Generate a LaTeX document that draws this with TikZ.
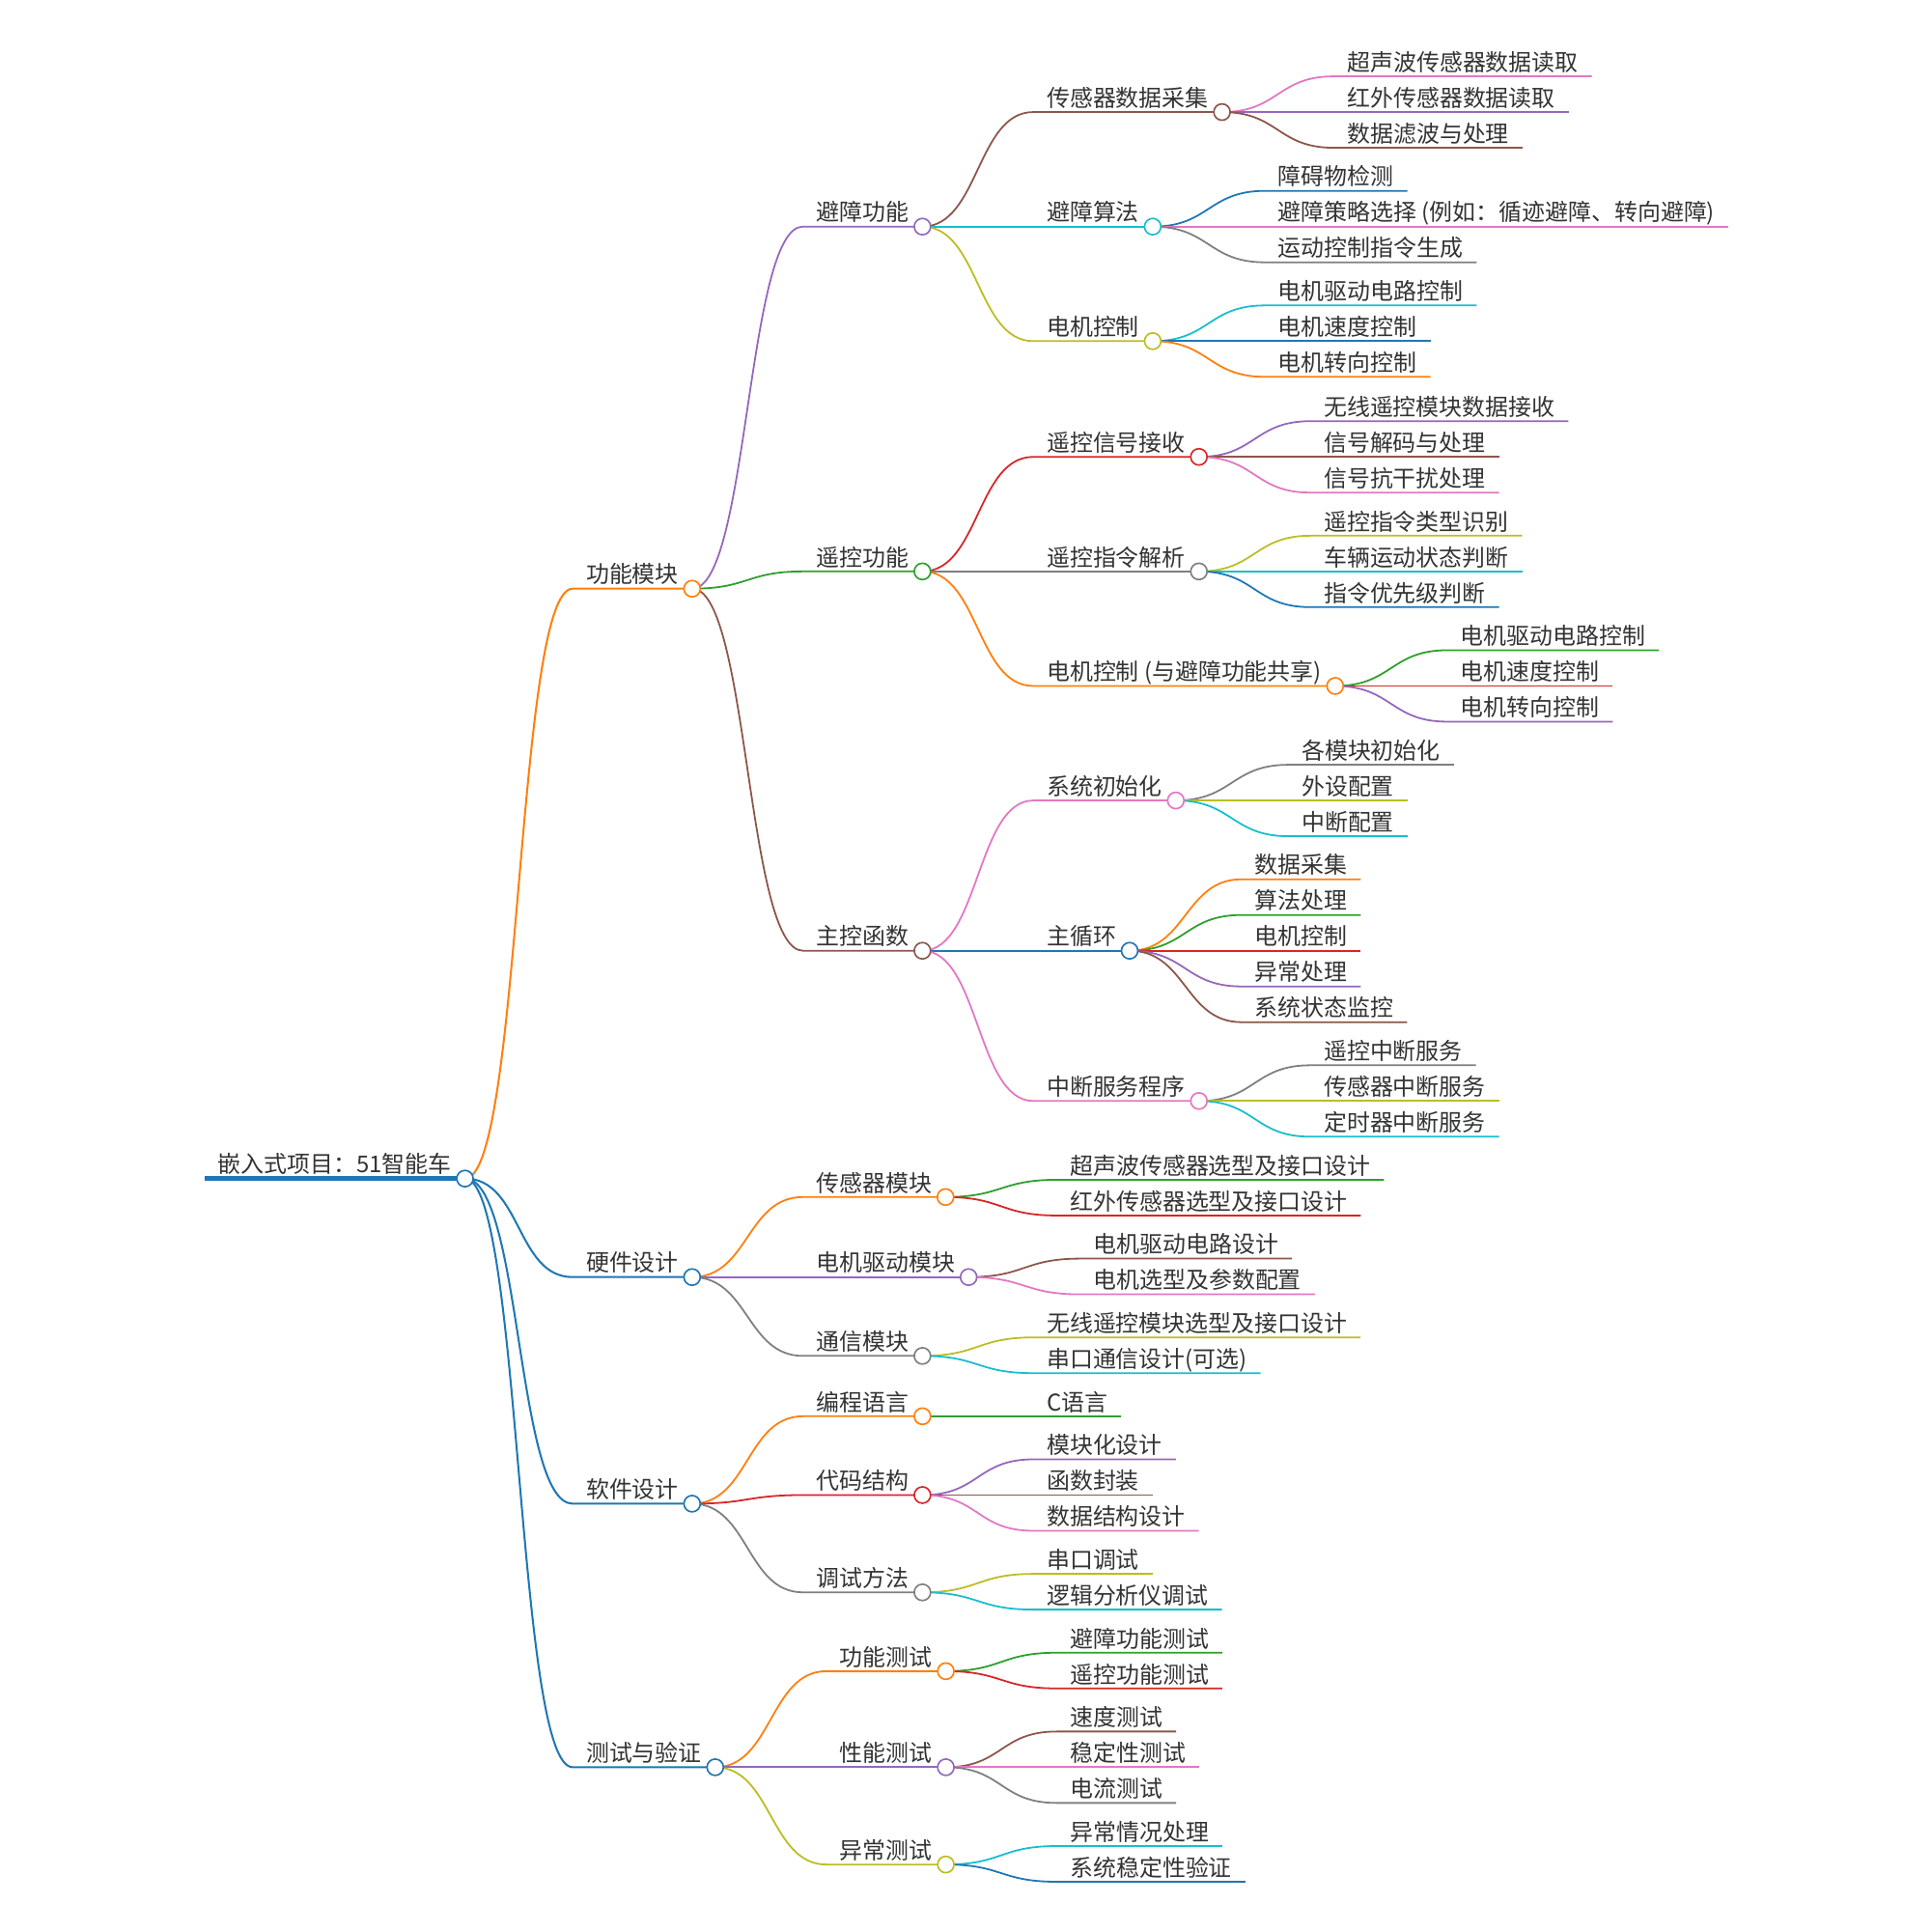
\documentclass[tikz,border=0pt]{standalone}
\usepackage{fontspec}
\setmainfont{Noto Sans CJK SC}
\usetikzlibrary{backgrounds}
\definecolor{blu}{HTML}{1F77B4}
\definecolor{ora}{HTML}{FF7F0E}
\definecolor{grn}{HTML}{2CA02C}
\definecolor{rd}{HTML}{D62728}
\definecolor{pur}{HTML}{9467BD}
\definecolor{brn}{HTML}{8C564B}
\definecolor{pnk}{HTML}{E377C2}
\definecolor{gry}{HTML}{7F7F7F}
\definecolor{olv}{HTML}{BCBD22}
\definecolor{cyn}{HTML}{17BECF}
\definecolor{ink}{HTML}{333333}
\tikzset{font=\fontsize{18.75}{22}\selectfont}
\tikzstyle{txt}=[anchor=base west,inner xsep=11pt,inner ysep=4.5pt,outer sep=0pt,text depth=0pt,yshift=4.5pt,text=ink]
\tikzstyle{dot}=[circle,fill=white,draw,inner sep=0pt,outer sep=0pt,minimum size=13.3pt,line width=1.3pt]
\tikzset{branch/.style={line width=1.4pt,to path={.. controls +(46,0) and +(-46,0) .. (\tikztotarget.south west) -- (\tikztotarget.south east)}},
  trunk/.style={branch,line width=1.6pt}}

\begin{document}
\begin{tikzpicture}[x=1pt,y=-1pt]
\useasboundingbox (0,0) rectangle (1568,1568);
\node[txt] (R) at (166,957) {嵌入式项目：51智能车};
% first level
\node[txt] (A) at (465,478) {功能模块};
\node[txt] (B) at (465,1037) {硬件设计};
\node[txt] (C) at (465,1221) {软件设计};
\node[txt] (D) at (465,1435) {测试与验证};
% 功能模块
\node[txt] (A1) at (652,184) {避障功能};
\node[txt] (A2) at (652,464) {遥控功能};
\node[txt] (A3) at (652,772) {主控函数};
\node[txt] (A11) at (839,91) {传感器数据采集};
\node[txt] (A12) at (839,184) {避障算法};
\node[txt] (A13) at (839,277) {电机控制};
\node[txt] (A111) at (1083,62) {超声波传感器数据读取};
\node[txt] (A112) at (1083,91) {红外传感器数据读取};
\node[txt] (A113) at (1083,120) {数据滤波与处理};
\node[txt] (A121) at (1027,155) {障碍物检测};
\node[txt] (A122) at (1027,184) {避障策略选择 (例如：循迹避障、转向避障)};
\node[txt] (A123) at (1027,213) {运动控制指令生成};
\node[txt] (A131) at (1027,248) {电机驱动电路控制};
\node[txt] (A132) at (1027,277) {电机速度控制};
\node[txt] (A133) at (1027,306) {电机转向控制};
\node[txt] (A21) at (839,371) {遥控信号接收};
\node[txt] (A22) at (839,464) {遥控指令解析};
\node[txt] (A23) at (839,557) {电机控制 (与避障功能共享)};
\node[txt] (A211) at (1064,342) {无线遥控模块数据接收};
\node[txt] (A212) at (1064,371) {信号解码与处理};
\node[txt] (A213) at (1064,400) {信号抗干扰处理};
\node[txt] (A221) at (1064,435) {遥控指令类型识别};
\node[txt] (A222) at (1064,464) {车辆运动状态判断};
\node[txt] (A223) at (1064,493) {指令优先级判断};
\node[txt] (A231) at (1175,528) {电机驱动电路控制};
\node[txt] (A232) at (1175,557) {电机速度控制};
\node[txt] (A233) at (1175,586) {电机转向控制};
\node[txt] (A31) at (839,650) {系统初始化};
\node[txt] (A32) at (839,772) {主循环};
\node[txt] (A33) at (839,894) {中断服务程序};
\node[txt] (A311) at (1046,621) {各模块初始化};
\node[txt] (A312) at (1046,650) {外设配置};
\node[txt] (A313) at (1046,679) {中断配置};
\node[txt] (A321) at (1008,714) {数据采集};
\node[txt] (A322) at (1008,743) {算法处理};
\node[txt] (A323) at (1008,772) {电机控制};
\node[txt] (A324) at (1008,801) {异常处理};
\node[txt] (A325) at (1008,830) {系统状态监控};
\node[txt] (A331) at (1064,865) {遥控中断服务};
\node[txt] (A332) at (1064,894) {传感器中断服务};
\node[txt] (A333) at (1064,923) {定时器中断服务};
% 硬件设计
\node[txt] (B1) at (652,972) {传感器模块};
\node[txt] (B2) at (652,1037) {电机驱动模块};
\node[txt] (B3) at (652,1101) {通信模块};
\node[txt] (B11) at (858,958) {超声波传感器选型及接口设计};
\node[txt] (B12) at (858,987) {红外传感器选型及接口设计};
\node[txt] (B21) at (877,1022) {电机驱动电路设计};
\node[txt] (B22) at (877,1051) {电机选型及参数配置};
\node[txt] (B31) at (839,1086) {无线遥控模块选型及接口设计};
\node[txt] (B32) at (839,1115) {串口通信设计(可选)};
% 软件设计
\node[txt] (C1) at (652,1150) {编程语言};
\node[txt] (C2) at (652,1214) {代码结构};
\node[txt] (C3) at (652,1293) {调试方法};
\node[txt] (C11) at (839,1150) {C语言};
\node[txt] (C21) at (839,1185) {模块化设计};
\node[txt] (C22) at (839,1214) {函数封装};
\node[txt] (C23) at (839,1243) {数据结构设计};
\node[txt] (C31) at (839,1278) {串口调试};
\node[txt] (C32) at (839,1307) {逻辑分析仪调试};
% 测试与验证
\node[txt] (D1) at (671,1357) {功能测试};
\node[txt] (D2) at (671,1435) {性能测试};
\node[txt] (D3) at (671,1514) {异常测试};
\node[txt] (D11) at (858,1342) {避障功能测试};
\node[txt] (D12) at (858,1371) {遥控功能测试};
\node[txt] (D21) at (858,1406) {速度测试};
\node[txt] (D22) at (858,1435) {稳定性测试};
\node[txt] (D23) at (858,1464) {电流测试};
\node[txt] (D31) at (858,1499) {异常情况处理};
\node[txt] (D32) at (858,1528) {系统稳定性验证};
% circles
\node[dot,draw=blu] (cR) at (R.south east) {};
\node[dot,draw=ora] (cA) at (A.south east) {};
\node[dot,draw=blu] (cB) at (B.south east) {};
\node[dot,draw=blu] (cC) at (C.south east) {};
\node[dot,draw=blu] (cD) at (D.south east) {};
\node[dot,draw=pur] (cA1) at (A1.south east) {};
\node[dot,draw=grn] (cA2) at (A2.south east) {};
\node[dot,draw=brn] (cA3) at (A3.south east) {};
\node[dot,draw=brn] (cA11) at (A11.south east) {};
\node[dot,draw=cyn] (cA12) at (A12.south east) {};
\node[dot,draw=olv] (cA13) at (A13.south east) {};
\node[dot,draw=rd] (cA21) at (A21.south east) {};
\node[dot,draw=gry] (cA22) at (A22.south east) {};
\node[dot,draw=ora] (cA23) at (A23.south east) {};
\node[dot,draw=pnk] (cA31) at (A31.south east) {};
\node[dot,draw=blu] (cA32) at (A32.south east) {};
\node[dot,draw=pnk] (cA33) at (A33.south east) {};
\node[dot,draw=ora] (cB1) at (B1.south east) {};
\node[dot,draw=pur] (cB2) at (B2.south east) {};
\node[dot,draw=gry] (cB3) at (B3.south east) {};
\node[dot,draw=ora] (cC1) at (C1.south east) {};
\node[dot,draw=rd] (cC2) at (C2.south east) {};
\node[dot,draw=gry] (cC3) at (C3.south east) {};
\node[dot,draw=ora] (cD1) at (D1.south east) {};
\node[dot,draw=pur] (cD2) at (D2.south east) {};
\node[dot,draw=olv] (cD3) at (D3.south east) {};
\begin{scope}[on background layer]
\draw[blu,line width=3.9pt] (R.south west) -- (cR.center);
\path (cR.center)
  edge[trunk,ora] (A) edge[trunk,blu] (B)
  edge[trunk,blu] (C) edge[trunk,blu] (D);
\path (cA.center) edge[branch,pur] (A1) edge[branch,grn] (A2) edge[branch,brn] (A3);
\path (cA1.center) edge[branch,brn] (A11) edge[branch,cyn] (A12) edge[branch,olv] (A13);
\path (cA11.center) edge[branch,pnk] (A111) edge[branch,pur] (A112) edge[branch,brn] (A113);
\path (cA12.center) edge[branch,blu] (A121) edge[branch,pnk] (A122) edge[branch,gry] (A123);
\path (cA13.center) edge[branch,cyn] (A131) edge[branch,blu] (A132) edge[branch,ora] (A133);
\path (cA2.center) edge[branch,rd] (A21) edge[branch,gry] (A22) edge[branch,ora] (A23);
\path (cA21.center) edge[branch,pur] (A211) edge[branch,brn] (A212) edge[branch,pnk] (A213);
\path (cA22.center) edge[branch,olv] (A221) edge[branch,cyn] (A222) edge[branch,blu] (A223);
\path (cA23.center) edge[branch,grn] (A231) edge[branch,rd] (A232) edge[branch,pur] (A233);
\path (cA3.center) edge[branch,pnk] (A31) edge[branch,blu] (A32) edge[branch,pnk] (A33);
\path (cA31.center) edge[branch,gry] (A311) edge[branch,olv] (A312) edge[branch,cyn] (A313);
\path (cA32.center) edge[branch,ora] (A321) edge[branch,grn] (A322) edge[branch,rd] (A323)
  edge[branch,pur] (A324) edge[branch,brn] (A325);
\path (cA33.center) edge[branch,gry] (A331) edge[branch,olv] (A332) edge[branch,cyn] (A333);
\path (cB.center) edge[branch,ora] (B1) edge[branch,pur] (B2) edge[branch,gry] (B3);
\path (cB1.center) edge[branch,grn] (B11) edge[branch,rd] (B12);
\path (cB2.center) edge[branch,brn] (B21) edge[branch,pnk] (B22);
\path (cB3.center) edge[branch,olv] (B31) edge[branch,cyn] (B32);
\path (cC.center) edge[branch,ora] (C1) edge[branch,rd] (C2) edge[branch,gry] (C3);
\path (cC1.center) edge[branch,grn] (C11);
\path (cC2.center) edge[branch,pur] (C21) edge[branch,brn] (C22) edge[branch,pnk] (C23);
\path (cC3.center) edge[branch,olv] (C31) edge[branch,cyn] (C32);
\path (cD.center) edge[branch,ora] (D1) edge[branch,pur] (D2) edge[branch,olv] (D3);
\path (cD1.center) edge[branch,grn] (D11) edge[branch,rd] (D12);
\path (cD2.center) edge[branch,brn] (D21) edge[branch,pnk] (D22) edge[branch,gry] (D23);
\path (cD3.center) edge[branch,cyn] (D31) edge[branch,blu] (D32);
\end{scope}
\end{tikzpicture}
\end{document}
